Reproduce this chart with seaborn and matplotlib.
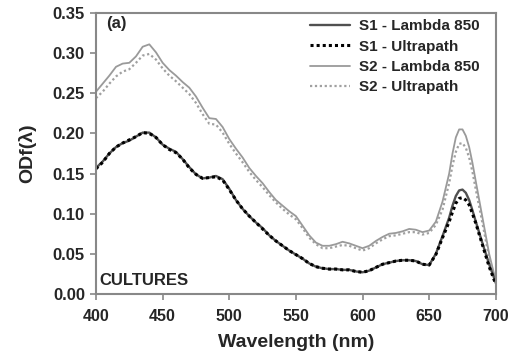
import numpy as np
import pandas as pd
import seaborn as sns
import matplotlib
matplotlib.use("Agg")
import matplotlib.pyplot as plt

wavelength = [400, 405, 410, 415, 420, 425, 430, 435, 440, 445,
              450, 455, 460, 465, 470, 475, 480, 485, 490, 495,
              500, 505, 510, 515, 520, 525, 530, 535, 540, 545,
              550, 555, 560, 565, 570, 575, 580, 585, 590, 595,
              600, 605, 610, 615, 620, 625, 630, 635, 640, 645,
              650, 655, 660, 665, 667.5, 670, 672.5, 675, 677.5, 680,
              682.5, 685, 690, 695, 700]

s1_lambda = [0.157, 0.165, 0.175, 0.183, 0.188, 0.191, 0.196, 0.201, 0.201, 0.195,
             0.186, 0.181, 0.177, 0.168, 0.158, 0.149, 0.144, 0.145, 0.147, 0.143,
             0.131, 0.117, 0.106, 0.097, 0.089, 0.082, 0.073, 0.066, 0.060, 0.054,
             0.049, 0.044, 0.038, 0.034, 0.032, 0.031, 0.031, 0.030, 0.030, 0.028,
             0.027, 0.029, 0.033, 0.037, 0.039, 0.041, 0.042, 0.042, 0.041, 0.037,
             0.036, 0.050, 0.072, 0.095, 0.110, 0.122, 0.129, 0.130, 0.126, 0.117,
             0.104, 0.090, 0.063, 0.037, 0.014]
s1_ultra = [0.156, 0.164, 0.175, 0.183, 0.188, 0.192, 0.196, 0.201, 0.200, 0.195,
            0.186, 0.180, 0.176, 0.168, 0.157, 0.149, 0.144, 0.145, 0.146, 0.142,
            0.130, 0.117, 0.106, 0.097, 0.089, 0.081, 0.073, 0.066, 0.060, 0.054,
            0.049, 0.044, 0.038, 0.034, 0.032, 0.031, 0.031, 0.030, 0.030, 0.028,
            0.027, 0.029, 0.033, 0.037, 0.039, 0.041, 0.042, 0.042, 0.041, 0.037,
            0.036, 0.049, 0.070, 0.090, 0.102, 0.113, 0.119, 0.120, 0.117, 0.111,
            0.100, 0.088, 0.061, 0.034, 0.012]
s2_lambda = [0.252, 0.262, 0.272, 0.283, 0.287, 0.288, 0.296, 0.308, 0.311, 0.301,
             0.288, 0.279, 0.272, 0.264, 0.257, 0.246, 0.232, 0.219, 0.218, 0.208,
             0.193, 0.181, 0.170, 0.157, 0.147, 0.138, 0.127, 0.117, 0.110, 0.103,
             0.097, 0.085, 0.073, 0.064, 0.060, 0.060, 0.062, 0.065, 0.063, 0.060,
             0.057, 0.060, 0.066, 0.071, 0.075, 0.076, 0.078, 0.081, 0.080, 0.077,
             0.079, 0.090, 0.115, 0.150, 0.175, 0.195, 0.205, 0.205, 0.197, 0.183,
             0.163, 0.140, 0.095, 0.050, 0.016]
s2_ultra = [0.244, 0.252, 0.262, 0.271, 0.277, 0.280, 0.288, 0.297, 0.299, 0.292,
            0.281, 0.272, 0.265, 0.257, 0.249, 0.238, 0.224, 0.212, 0.211, 0.201,
            0.187, 0.175, 0.164, 0.152, 0.142, 0.133, 0.123, 0.114, 0.106, 0.099,
            0.093, 0.082, 0.070, 0.062, 0.057, 0.057, 0.059, 0.061, 0.060, 0.057,
            0.054, 0.057, 0.063, 0.068, 0.072, 0.073, 0.075, 0.077, 0.077, 0.074,
            0.076, 0.086, 0.105, 0.138, 0.160, 0.177, 0.187, 0.188, 0.182, 0.170,
            0.152, 0.130, 0.088, 0.045, 0.013]

series_names = ["S1 - Lambda 850", "S1 - Ultrapath", "S2 - Lambda 850", "S2 - Ultrapath"]
x_ticks = [400, 450, 500, 550, 600, 650, 700]
y_ticks = [0.00, 0.05, 0.10, 0.15, 0.20, 0.25, 0.30, 0.35]

sns.set_theme(style="white")
plt.rcParams['font.family'] = ['Liberation Sans', 'DejaVu Sans']

fig = plt.figure(figsize=(5.08, 3.62), dpi=100)
ax = fig.add_axes([0.189, 0.188, 0.787, 0.776])

styles = [
    dict(color="#505050", linestyle="-", linewidth=1.7),
    dict(color="#000000", linestyle=(0, (1, 1)), linewidth=2.2),
    dict(color="#9a9a9a", linestyle="-", linewidth=1.3),
    dict(color="#a0a0a0", linestyle=(0, (1, 1.2)), linewidth=1.6),
]
data = [s1_lambda, s1_ultra, s2_lambda, s2_ultra]
order = [2, 3, 0, 1]
for i in order:
    df = pd.DataFrame({"wl": wavelength, "od": data[i]})
    sns.lineplot(data=df, x="wl", y="od", ax=ax, label=series_names[i], **styles[i])

ax.set_xlim(400, 700)
ax.set_ylim(0, 0.35)
ax.set_xticks(x_ticks)
ax.set_yticks(y_ticks)
ax.set_xticklabels([str(t) for t in x_ticks], fontsize=11.5, fontweight='bold')
ax.set_yticklabels([f"{t:.2f}" for t in y_ticks], fontsize=12, fontweight='bold')
ax.tick_params(axis='both', which='major', bottom=True, left=True, direction='out',
               length=4, width=1.2, color='#888888', pad=4)
ax.tick_params(axis='x', pad=7)
for sp in ax.spines.values():
    sp.set_color('#888888')
    sp.set_linewidth(1.5)

ax.set_xlabel("Wavelength (nm)", fontsize=14, fontweight='bold', labelpad=7)
ax.set_ylabel("ODf(λ)", fontsize=14, fontweight='bold', labelpad=12)

ax.text(0.025, 0.99, "(a)", transform=ax.transAxes, fontsize=12, fontweight='bold', va='top', ha='left')
ax.text(0.008, 0.02, "CULTURES", transform=ax.transAxes, fontsize=12, fontweight='bold', va='bottom', ha='left')

handles, labels = ax.get_legend_handles_labels()
hmap = dict(zip(labels, handles))
ax.legend([hmap[n] for n in series_names], series_names, loc='upper right', frameon=False,
          prop={'weight': 'bold', 'size': 11}, handlelength=2.6, handletextpad=0.6,
          labelspacing=0.42, borderaxespad=0.0, bbox_to_anchor=(0.975, 1.0))

fig.savefig("out.png", dpi=100)
